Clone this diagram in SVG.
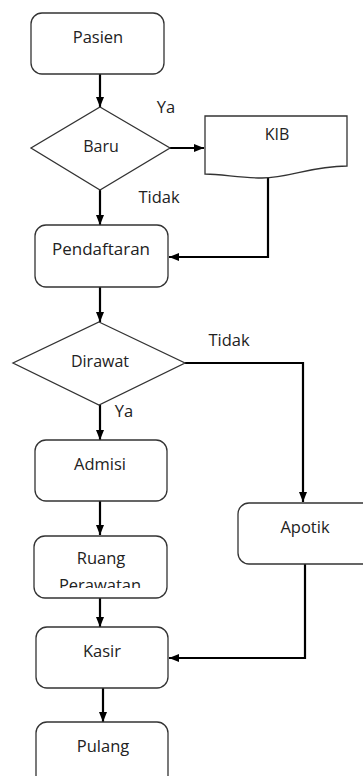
<svg xmlns="http://www.w3.org/2000/svg" width="363" height="776" viewBox="0 0 363 776">
<style>
.box{fill:#fff;stroke:#333;stroke-width:1.3}
.t{font-family:"Open Sans","Liberation Sans",sans-serif;fill:#222;text-anchor:middle}
.big{font-size:16.5px}
.sm{font-size:16px}
.c{fill:none;stroke:#000;stroke-width:2.2}
</style>
<defs>
<marker id="ah" markerUnits="userSpaceOnUse" markerWidth="10" markerHeight="10" viewBox="0 0 10 10" refX="10" refY="5" orient="auto">
<path d="M0,1 L10,5 L0,9 Z" fill="#000"/>
</marker>
<clipPath id="clipRuang"><rect x="34" y="536" width="133" height="52"/></clipPath>
</defs>
<rect width="363" height="776" fill="#fff"/>
<g id="connectors">
<path class="c" d="M100,74 V107" marker-end="url(#ah)"/>
<path class="c" d="M170,148 H204" marker-end="url(#ah)"/>
<path class="c" d="M268,177 V257 H169" marker-end="url(#ah)"/>
<path class="c" d="M100,190 V225" marker-end="url(#ah)"/>
<path class="c" d="M100,287 V322" marker-end="url(#ah)"/>
<path class="c" d="M185,363 H303 V502" marker-end="url(#ah)"/>
<path class="c" d="M100,405 V440" marker-end="url(#ah)"/>
<path class="c" d="M100,501 V535" marker-end="url(#ah)"/>
<path class="c" d="M100,598 V627" marker-end="url(#ah)"/>
<path class="c" d="M305,564 V658 H169" marker-end="url(#ah)"/>
<path class="c" d="M103,688 V722" marker-end="url(#ah)"/>
</g>
<g id="labels">
<text class="t big" x="166" y="113">Ya</text>
<text class="t big" x="159" y="203">Tidak</text>
<text class="t big" x="229" y="346">Tidak</text>
<text class="t big" x="124" y="417">Ya</text>
</g>
<g id="pasien">
<rect class="box" x="31" y="13" width="133" height="61" rx="11"/>
<text class="t big" x="98" y="43">Pasien</text>
</g>
<g id="baru">
<path class="box" d="M100,107 L170,148 L100,190 L31,148 Z"/>
<text class="t sm" x="101" y="152">Baru</text>
</g>
<g id="kib">
<path class="box" d="M205,116 H347 V166 C310,166 290,178 262,178 C240,178 222,174 205,174 Z"/>
<text class="t sm" x="277" y="140">KIB</text>
</g>
<g id="pendaftaran">
<rect class="box" x="35" y="225" width="133" height="62" rx="11"/>
<text class="t" style="font-size:17px" x="101" y="255">Pendaftaran</text>
</g>
<g id="dirawat">
<path class="box" d="M99,322 L185,363 L99,405 L13,363 Z"/>
<text class="t sm" x="100" y="367">Dirawat</text>
</g>
<g id="admisi">
<rect class="box" x="35" y="440" width="132" height="61" rx="11"/>
<text class="t big" x="100" y="470">Admisi</text>
</g>
<g id="apotik">
<rect class="box" x="238" y="503" width="140" height="61" rx="11"/>
<text class="t big" x="305" y="533">Apotik</text>
</g>
<g id="ruang">
<rect class="box" x="34" y="536" width="133" height="62" rx="11"/>
<text class="t big" x="101" y="564">Ruang</text>
<text class="t big" x="100" y="591" clip-path="url(#clipRuang)">Perawatan</text>
</g>
<g id="kasir">
<rect class="box" x="36" y="627" width="132" height="61" rx="11"/>
<text class="t big" x="102" y="657">Kasir</text>
</g>
<g id="pulang">
<rect class="box" x="36" y="722" width="132" height="70" rx="11"/>
<text class="t big" x="103" y="752">Pulang</text>
</g>
</svg>
